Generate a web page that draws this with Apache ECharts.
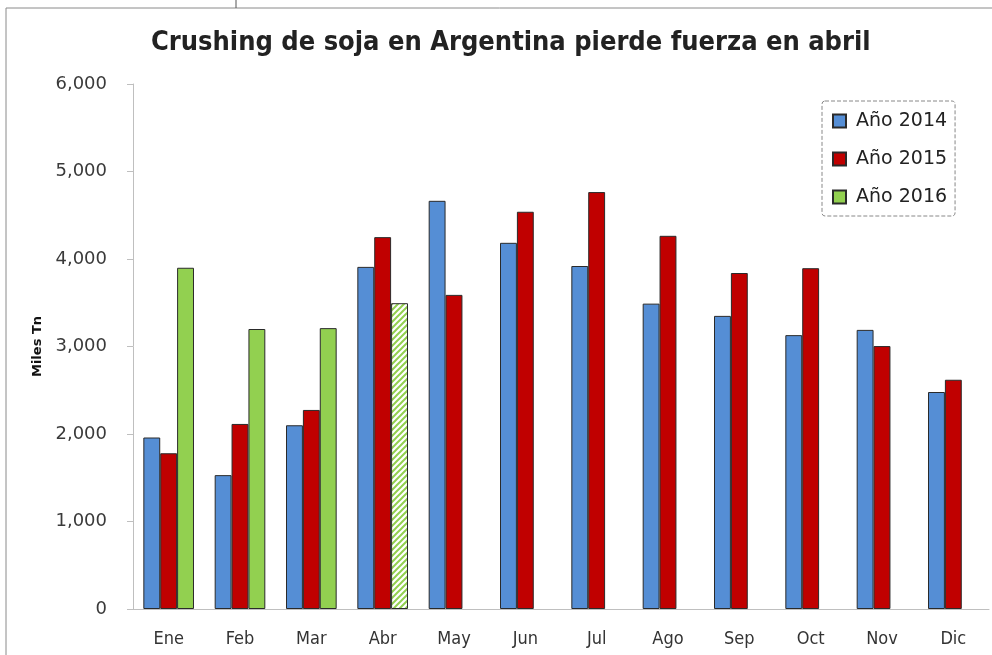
<!DOCTYPE html>
<html lang="es">
<head>
    <meta charset="UTF-8">
    <script src="https://cdn.jsdelivr.net/npm/echarts@6/dist/echarts.min.js"></script>
    <title>Crushing soja Argentina</title>
    <style>html,body{margin:0;padding:0;background:#fff;}</style>
</head>
<body>
    <div id="main" style="width: 992px;height:655px;"></div>
    <script type="text/javascript">
        // datos (miles de toneladas)
        var meses = ['Ene', 'Feb', 'Mar', 'Abr', 'May', 'Jun', 'Jul', 'Ago', 'Sep', 'Oct', 'Nov', 'Dic'];
        var anio2014 = [1960, 1530, 2100, 3910, 4665, 4185, 3920, 3490, 3350, 3130, 3190, 2480];
        var anio2015 = [1780, 2115, 2275, 4250, 3590, 4540, 4765, 4265, 3840, 3895, 3005, 2620];
        var anio2016 = [3900, 3200, 3210, 3495, null, null, null, null, null, null, null, null];
        var yTicks = [0, 1000, 2000, 3000, 4000, 5000, 6000];

        var condensed = "'Liberation Sans Narrow', 'DejaVu Sans Condensed', sans-serif";
        var labelFont = "'DejaVu Sans', sans-serif";

        // rayado verde para abril 2016 (dato parcial)
        var stripe = document.createElement('canvas');
        stripe.width = 6; stripe.height = 6;
        var ctx = stripe.getContext('2d');
        ctx.fillStyle = '#ffffff';
        ctx.fillRect(0, 0, 6, 6);
        ctx.strokeStyle = '#92D050';
        ctx.lineWidth = 2;
        ctx.beginPath();
        ctx.moveTo(-1, 7); ctx.lineTo(7, -1);
        ctx.moveTo(-4, 4); ctx.lineTo(4, -4);
        ctx.moveTo(2, 10); ctx.lineTo(10, 2);
        ctx.stroke();

        var green = anio2016.map(function (v, i) {
            if (meses[i] === 'Abr') {
                return { value: v, itemStyle: { color: { image: stripe, repeat: 'repeat' } } };
            }
            return v;
        });

        var chart = echarts.init(document.getElementById('main'));
        var option = {
            animation: false,
            backgroundColor: '#fff',
            title: {
                text: 'Crushing de soja en Argentina pierde fuerza en abril',
                left: 146,
                top: 24,
                textStyle: { fontFamily: condensed, fontSize: 27, fontWeight: 'bold', color: '#222' }
            },
            graphic: [
                { type: 'rect', shape: { x: 6, y: 8, width: 1100, height: 800 }, style: { fill: 'none', stroke: '#8a8a8a', lineWidth: 1 } },
                { type: 'line', shape: { x1: 236, y1: 0, x2: 236, y2: 8 }, style: { stroke: '#555', lineWidth: 1 } }
            ],
            legend: {
                orient: 'vertical',
                left: 822,
                top: 101,
                padding: [10, 8, 9, 10],
                icon: 'rect',
                itemWidth: 13,
                itemHeight: 13,
                itemGap: 18,
                borderColor: '#888',
                borderWidth: 1,
                borderType: 'dashed',
                borderRadius: 3,
                textStyle: { fontFamily: labelFont, fontSize: 19, color: '#222', lineHeight: 20, padding: [0, 0, 0, 5] },
                data: ['Año 2014', 'Año 2015', 'Año 2016']
            },
            grid: { left: 133, right: 3, top: 84, bottom: 46 },
            xAxis: {
                type: 'category',
                data: meses,
                axisLine: { lineStyle: { color: '#bfbfbf', width: 1 } },
                axisTick: { length: 6, lineStyle: { color: '#bfbfbf' } },
                axisLabel: { fontFamily: condensed, fontSize: 18, color: '#333', margin: 21 }
            },
            yAxis: {
                type: 'value',
                min: yTicks[0],
                max: yTicks[yTicks.length - 1],
                interval: 1000,
                name: 'Miles Tn',
                nameLocation: 'middle',
                nameGap: 86,
                nameTextStyle: { fontFamily: labelFont, fontSize: 13, fontWeight: 'bold', color: '#111' },
                axisLine: { show: true, lineStyle: { color: '#bfbfbf', width: 1 } },
                axisTick: { show: true, length: 6, lineStyle: { color: '#bfbfbf' } },
                splitLine: { show: false },
                axisLabel: {
                    fontFamily: labelFont, fontSize: 18, color: '#3a3a3a', margin: 26,
                    formatter: function (v) { return v.toLocaleString('en-US'); }
                }
            },
            series: [
                {
                    name: 'Año 2014', type: 'bar', data: anio2014,
                    barGap: '0%', barCategoryGap: '29%',
                    itemStyle: { color: '#558ED5', borderColor: '#2a2a2a', borderWidth: 1 }
                },
                {
                    name: 'Año 2015', type: 'bar', data: anio2015,
                    itemStyle: { color: '#C00000', borderColor: '#2a2a2a', borderWidth: 1 }
                },
                {
                    name: 'Año 2016', type: 'bar', data: green,
                    itemStyle: { color: '#92D050', borderColor: '#2a2a2a', borderWidth: 1 }
                }
            ]
        };
        chart.setOption(option);
    </script>
</body>
</html>
